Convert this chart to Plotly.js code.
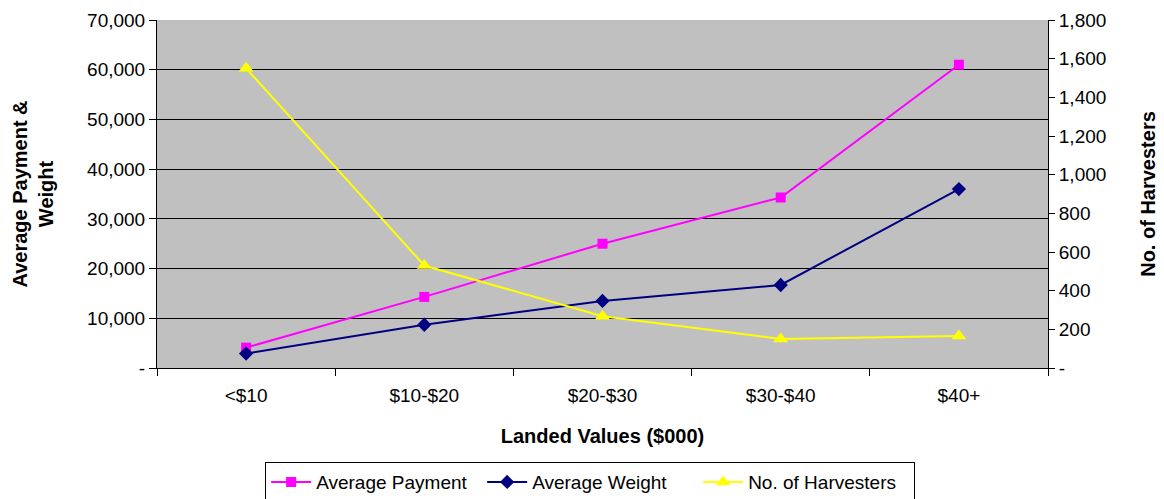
<!DOCTYPE html>
<html><head><meta charset="utf-8">
<script src="https://cdn.plot.ly/plotly-3.0.1.min.js"></script>
<style>html,body{margin:0;padding:0;background:#fff}#c{width:1164px;height:499px}</style>
</head><body><div id="c"></div>
<script>
const categories = ["<$10", "$10-$20", "$20-$30", "$30-$40", "$40+"];
const avgPayment = [4100, 14300, 25000, 34300, 61000];
const avgWeight = [2900, 8700, 13500, 16700, 36000];
const harvesters = [1550, 530, 268, 150, 166];
const leftTickVals = [0, 10000, 20000, 30000, 40000, 50000, 60000, 70000];
const leftTickText = ["-", "10,000", "20,000", "30,000", "40,000", "50,000", "60,000", "70,000"];
const rightTickVals = [0, 200, 400, 600, 800, 1000, 1200, 1400, 1600, 1800];
const rightTickText = ["-", "200", "400", "600", "800", "1,000", "1,200", "1,400", "1,600", "1,800"];

const fam = "Liberation Sans, Arial, sans-serif";
const titleFont = {family: fam, size: 20, color: "#000", weight: "bold"};
const tickFont = {family: fam, size: 19, color: "#000"};
const traces = [
  {x: categories, y: avgPayment, name: "Average Payment", type: "scatter", mode: "lines+markers",
   line: {color: "#FF00FF", width: 2}, marker: {symbol: "square", size: 10, color: "#FF00FF"}},
  {x: categories, y: avgWeight, name: "Average Weight", type: "scatter", mode: "lines+markers",
   line: {color: "#000080", width: 2}, marker: {symbol: "diamond", size: 11, color: "#000080"}},
  {x: categories, y: harvesters, name: "No. of Harvesters", type: "scatter", mode: "lines+markers", yaxis: "y2",
   line: {color: "#FFFF00", width: 2}, marker: {symbol: "triangle-up", size: 13, color: "#FFFF00"}}
];
const layout = {
  width: 1164, height: 499,
  margin: {l: 157, r: 116, t: 20, b: 131, autoexpand: false},
  paper_bgcolor: "#fff", plot_bgcolor: "#C0C0C0",
  font: {family: fam, size: 19, color: "#000"},
  showlegend: true,
  legend: {orientation: "h", xref: "container", yref: "container", x: 0.507, xanchor: "center", y: 0.074, yanchor: "top",
           bordercolor: "#000", borderwidth: 1, bgcolor: "#fff", entrywidth: 161, itemwidth: 40,
           font: {family: fam, size: 19, color: "#000"}},
  xaxis: {type: "category", range: [-0.5, 4.5], showgrid: false, zeroline: false, showline: true, linecolor: "#000", linewidth: 1,
          ticks: "outside", tickson: "boundaries", ticklen: 7, tickcolor: "#000", ticklabelstandoff: 10,
          title: {text: "Landed Values ($000)", font: titleFont, standoff: 24},
          tickfont: tickFont},
  yaxis: {range: [0, 70000], tickvals: leftTickVals, ticktext: leftTickText, showgrid: true, gridcolor: "#000", gridwidth: 1,
          zeroline: false, showline: true, linecolor: "#000", ticks: "outside", ticklen: 7, tickcolor: "#000",
          title: {text: "Average Payment &<br>Weight", font: titleFont, standoff: 28},
          tickfont: tickFont},
  yaxis2: {range: [0, 1800], tickvals: rightTickVals, ticktext: rightTickText, overlaying: "y", side: "right",
           showgrid: false, zeroline: false, showline: true, linecolor: "#000", ticks: "outside", ticklen: 6, tickcolor: "#000",
           title: {text: "No. of Harvesters", font: titleFont, standoff: 35},
           tickfont: tickFont}
};
Plotly.newPlot("c", traces, layout, {displayModeBar: false, staticPlot: true});
</script></body></html>
